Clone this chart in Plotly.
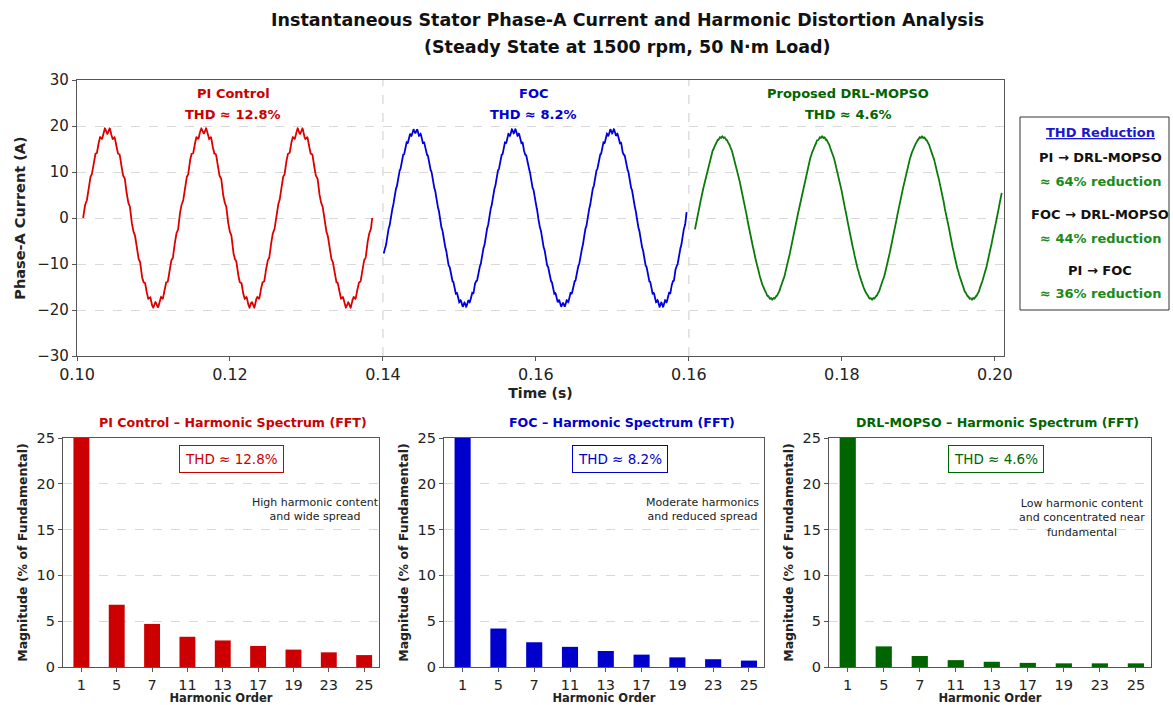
import numpy as np
import plotly.graph_objects as go

# ---------------- data ----------------
METHODS = ["PI Control", "FOC", "Proposed DRL-MOPSO"]
SHORT = ["PI Control", "FOC", "DRL-MOPSO"]
THD = [12.8, 8.2, 4.6]
COLORS = ["#cc0000", "#0000cc", "#006400"]
LINE_COLORS = ["#dd0000", "#0000dd", "#0a7a0a"]

# waveform segments (time on the displayed axis)
SEG_T_START = [0.1008, 0.1401, 0.1808]
SEG_T_END = [0.1386, 0.1797, 0.2209]
SEG_T_ZERO = [0.1008, 0.1410, 0.1811]       # upward zero crossing
SEG_PERIOD = [0.0126, 0.01287, 0.01305]
SEG_AMP = [19.0, 18.9, 17.6]
SEG_RIPPLE_ORDER = [19, 27, 41]
SEG_RIPPLE_AMP = [0.7, 0.5, 0.15]

TIME_TICKVALS = [0.10, 0.12, 0.14, 0.16, 0.18, 0.20, 0.22]
TIME_TICKTEXT = ["0.10", "0.12", "0.14", "0.16", "0.16", "0.18", "0.20"]
SEPARATORS = [0.14, 0.18]

HARMONICS = ["1", "5", "7", "11", "13", "17", "19", "23", "25"]
PI_SPEC = [100, 6.8, 4.7, 3.3, 2.9, 2.3, 1.9, 1.6, 1.3]
FOC_SPEC = [100, 4.2, 2.7, 2.2, 1.75, 1.35, 1.05, 0.85, 0.7]
DRL_SPEC = [100, 2.25, 1.2, 0.75, 0.57, 0.45, 0.4, 0.4, 0.4]
SPECTRA = [PI_SPEC, FOC_SPEC, DRL_SPEC]
SPEC_NOTES = ["High harmonic content<br>and wide spread",
              "Moderate harmonics<br>and reduced spread",
              "Low harmonic content<br>and concentrated near<br>fundamental"]

REDUCTION_PAIRS = ["PI → DRL-MOPSO", "FOC → DRL-MOPSO", "PI → FOC"]
REDUCTION_PCT = [64, 44, 36]

# ---------------- figure ----------------
W, H = 1173, 705
FONT = "'DejaVu Sans', sans-serif"
DARK = "#222222"


def px_x(p):
    return p / W


def px_y(p):
    return 1 - p / H


def note(x, y, text, size, color, bold=False, **kw):
    if bold:
        text = f"<b>{text}</b>"
    d = dict(xref="paper", yref="paper", x=px_x(x), y=px_y(y), text=text,
             showarrow=False, xanchor="center", yanchor="middle", align="center",
             font=dict(family=FONT, size=size, color=color))
    d.update(kw)
    return d


fig = go.Figure()

top_dom_x = [px_x(77), px_x(1004)]
top_dom_y = [px_y(356), px_y(80)]

for i in range(3):
    t = np.linspace(SEG_T_START[i], SEG_T_END[i], 1400)
    ph = 2 * np.pi * (t - SEG_T_ZERO[i]) / SEG_PERIOD[i]
    y = SEG_AMP[i] * np.sin(ph) + SEG_RIPPLE_AMP[i] * np.sin(SEG_RIPPLE_ORDER[i] * ph)
    fig.add_trace(go.Scatter(x=t, y=y, mode="lines", xaxis="x", yaxis="y",
                             line=dict(color=LINE_COLORS[i], width=1.8),
                             showlegend=False, hoverinfo="skip"))


def axis_common(tsize):
    return dict(showline=True, linecolor="#555555", linewidth=1.2, mirror=True,
                ticks="outside", ticklen=4, tickcolor="#555555", automargin=False,
                tickfont=dict(family=FONT, size=tsize, color=DARK), zeroline=False)


layout = dict(
    width=W, height=H, margin=dict(l=0, r=0, t=0, b=0),
    paper_bgcolor="white", plot_bgcolor="white", showlegend=False,
    font=dict(family=FONT, color=DARK),
    xaxis=dict(domain=top_dom_x, anchor="y", range=[0.10, 0.2212],
               tickvals=TIME_TICKVALS, ticktext=TIME_TICKTEXT, showgrid=False,
               title=dict(text="<b>Time (s)</b>", font=dict(family=FONT, size=14, color=DARK), standoff=4),
               **axis_common(16)),
    yaxis=dict(domain=top_dom_y, anchor="x", range=[-30, 30], dtick=10,
               showgrid=True, gridcolor="#d9d9d9", griddash="dash", gridwidth=1,
               title=dict(text="<b>Phase-A Current (A)</b>", font=dict(family=FONT, size=14.5, color=DARK), standoff=8),
               **axis_common(15)),
)

shapes = []
annotations = []

for s in SEPARATORS:
    shapes.append(dict(type="line", xref="x", yref="y domain", x0=s, x1=s, y0=0, y1=1,
                       line=dict(color="#cccccc", width=1, dash="dash"), layer="below"))

seg_label_x = [233, 533, 848]
for i in range(3):
    annotations.append(note(seg_label_x[i], 94, METHODS[i], 13, COLORS[i], bold=True))
    annotations.append(note(seg_label_x[i], 114, f"THD ≈ {THD[i]}%", 13, COLORS[i], bold=True))

# THD reduction box
shapes.append(dict(type="rect", xref="paper", yref="paper",
                   x0=px_x(1020), x1=px_x(1169), y0=px_y(310), y1=px_y(117),
                   line=dict(color="#333333", width=1), fillcolor="white"))
annotations.append(note(1100, 132, "<u>THD Reduction</u>", 13, "#1a1acc", bold=True))
pair_y = [157, 214, 270]
for k in range(3):
    annotations.append(note(1100, pair_y[k], REDUCTION_PAIRS[k], 13, "#111111", bold=True))
    annotations.append(note(1100, pair_y[k] + 24, f"≈ {REDUCTION_PCT[k]}% reduction", 13,
                            "#1a8a1a", bold=True))

# main title
annotations.append(note(627, 20, "Instantaneous Stator Phase-A Current and Harmonic Distortion Analysis",
                        17.5, "#111111", bold=True))
annotations.append(note(627, 47, "(Steady State at 1500 rpm, 50 N·m Load)", 17.5, "#111111", bold=True))

# bottom spectra
bot_x = [(63, 379), (444, 764), (829, 1151)]
title_cx = [233, 622, 997]
box_cx = [231, 620, 996]
note_cx = [315, 702, 1082]
note_cy = [509, 509, 518]
cats = list(range(len(HARMONICS)))
for i in range(3):
    xa = f"x{i + 2}"
    ya = f"y{i + 2}"
    fig.add_trace(go.Bar(x=cats, y=SPECTRA[i], xaxis=xa, yaxis=ya, width=0.45,
                         marker=dict(color=COLORS[i], line=dict(width=0)),
                         showlegend=False, hoverinfo="skip"))
    layout[f"xaxis{i + 2}"] = dict(domain=[px_x(bot_x[i][0]), px_x(bot_x[i][1])], anchor=ya,
                                   range=[-0.52, 8.42], tickvals=cats, ticktext=HARMONICS,
                                   showgrid=False,
                                   title=dict(text="<b>Harmonic Order</b>",
                                              font=dict(family=FONT, size=11.5, color=DARK), standoff=2),
                                   **axis_common(14.5))
    layout[f"yaxis{i + 2}"] = dict(domain=[px_y(667), px_y(438)], anchor=xa,
                                   range=[0, 25], dtick=5,
                                   showgrid=True, gridcolor="#d9d9d9", griddash="dash", gridwidth=1,
                                   title=dict(text="<b>Magnitude (% of Fundamental)</b>",
                                              font=dict(family=FONT, size=12.5, color=DARK), standoff=6),
                                   **axis_common(14.5))
    annotations.append(note(title_cx[i], 422, f"{SHORT[i]} – Harmonic Spectrum (FFT)", 12.6,
                            COLORS[i], bold=True))
    annotations.append(note(box_cx[i], 459, f"THD ≈ {THD[i]}%", 13.5, COLORS[i],
                            bordercolor=COLORS[i], borderwidth=1, borderpad=5, bgcolor="white"))
    annotations.append(note(note_cx[i], note_cy[i], SPEC_NOTES[i], 11, "#222222"))

layout["shapes"] = shapes
layout["annotations"] = annotations
fig.update_layout(**layout)

fig.write_html("out.html")
